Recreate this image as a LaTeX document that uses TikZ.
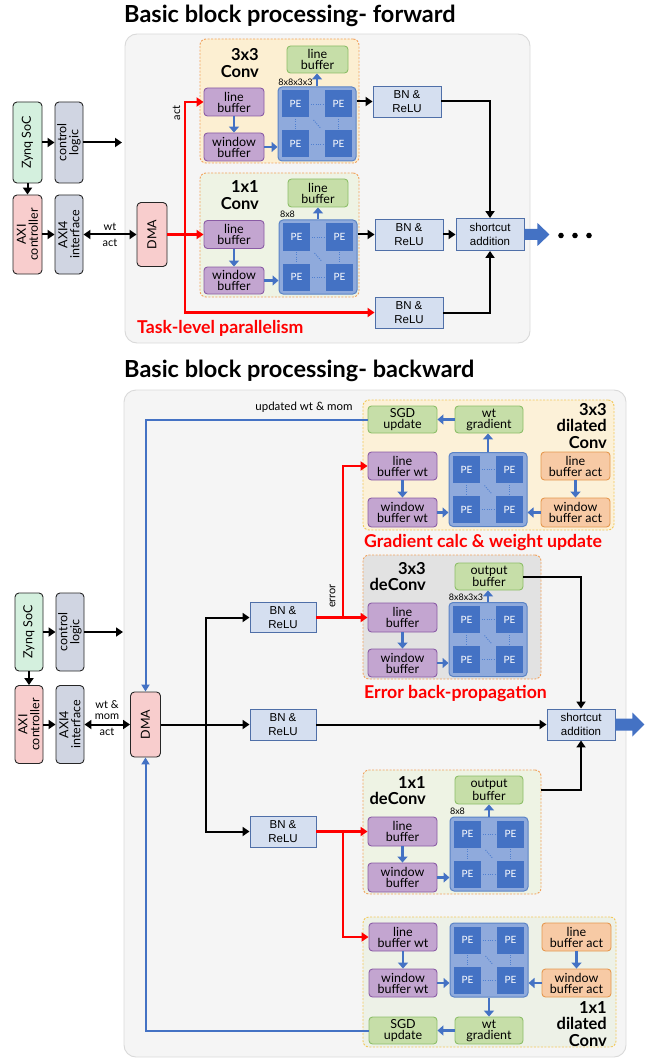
\documentclass[tikz,border=0pt]{standalone}
\usepackage{fontspec}
\setmainfont{Lato}
\newfontfamily\arialf{Liberation Sans}
\usetikzlibrary{arrows.meta,calc}
\definecolor{cpurpF}{HTML}{C3A5D0}
\definecolor{cpurpD}{HTML}{8A5BA5}
\definecolor{cgrnF}{HTML}{C6DEA8}
\definecolor{cgrnD}{HTML}{8DBE68}
\definecolor{corgF}{HTML}{F7CAA5}
\definecolor{corgD}{HTML}{E5984F}
\definecolor{cpeaF}{HTML}{8FAADC}
\definecolor{cpeaD}{HTML}{5A83C6}
\definecolor{cpeF}{HTML}{4472C4}
\definecolor{cbnF}{HTML}{D5DFF0}
\definecolor{cbnD}{HTML}{4F6FA8}
\definecolor{czynF}{HTML}{D4F0DE}
\definecolor{cctlF}{HTML}{D0D5E2}
\definecolor{caxiF}{HTML}{F8CDCD}
\definecolor{cArr}{HTML}{4472C4}
\definecolor{cbgF}{HTML}{F5F5F5}
\definecolor{cbgD}{HTML}{D9D9D9}
\definecolor{cyel}{HTML}{FCEFD2}
\definecolor{cgnl}{HTML}{EEF3E4}
\definecolor{cgry}{HTML}{E2E2E2}
\definecolor{cdil}{HTML}{FCF1D8}
\definecolor{cdilG}{HTML}{EDF1E7}
\definecolor{cdashO}{HTML}{F2A35E}
\definecolor{cdashY}{HTML}{F3C95A}
\definecolor{cred}{HTML}{FF0000}
\definecolor{cdot}{HTML}{4F7FD0}
\newcommand\fsz[2]{\fontsize{#1}{#2}\selectfont}
\tikzset{
 sz/.style 2 args={minimum width=#1, minimum height=#2},
 bx/.style={rectangle, rounded corners=3.5pt, line width=0.9pt, inner sep=0pt, align=center, font=\fsz{12.5}{11}},
 purp/.style={bx, fill=cpurpF, draw=cpurpD},
 grn/.style={bx, fill=cgrnF, draw=cgrnD},
 org/.style={bx, fill=corgF, draw=corgD},
 bn/.style={rectangle, fill=cbnF, draw=cbnD, line width=0.9pt, inner sep=0pt, align=center, font=\arialf\fsz{11.5}{14}},
 sys/.style={rectangle, rounded corners=4pt, draw=black!85, line width=0.9pt, inner sep=0pt},
 vtxt/.style={rotate=90, align=center, font=\fsz{12.5}{12}, inner sep=0pt},
 lbl/.style={align=center, font=\fsz{11}{10.5}, inner sep=0pt},
 small/.style={font=\fsz{9}{9}, inner sep=0pt},
 grp/.style={rectangle, rounded corners=6pt, dash pattern=on 2pt off 1.5pt, line width=0.9pt, inner sep=0pt},
 bgbox/.style={rectangle, rounded corners=12pt, fill=cbgF, draw=cbgD, line width=0.9pt, inner sep=0pt},
 pearray/.style={rectangle, rounded corners=4pt, fill=cpeaF, draw=cpeaD, line width=1pt, sz={78}{74}, inner sep=0pt},
 pe/.style={rectangle, fill=cpeF, sz={27}{27}, inner sep=0pt, text=white, font=\fsz{10}{10}},
 pedot/.style={draw=cdot, line width=0.9pt, dash pattern=on 1pt off 1.3pt},
 ttl/.style={font=\bfseries\fsz{16.5}{16.5}, align=right, inner sep=0pt, anchor=east},
 redttl/.style={font=\bfseries\fsz{17.7}{20}, text=cred, inner sep=0pt, anchor=west},
 blk/.style={draw=black, line width=2pt, -{Triangle[length=7pt,width=9pt]}},
 blkd/.style={draw=black, line width=2pt, {Triangle[length=7pt,width=9pt]}-{Triangle[length=7pt,width=9pt]}},
 redA/.style={draw=cred, line width=2.2pt, -{Triangle[length=7pt,width=9pt]}},
 bl/.style={draw=cArr, line width=2.6pt, -{Triangle[length=6pt,width=10pt]}},
 bfb/.style={draw=cArr, line width=2pt, -{Triangle[length=7pt,width=8pt]}},
}
\newcommand\PEarr[3]{%
  \node[pearray] (#1) at (#2,#3) {};
  \node[pe] (#1a) at ($(#1)+(-21.5,-20)$) {PE};
  \node[pe] (#1b) at ($(#1)+(21.5,-20)$) {PE};
  \node[pe] (#1c) at ($(#1)+(-21.5,20)$) {PE};
  \node[pe] (#1d) at ($(#1)+(21.5,20)$) {PE};
  \draw[pedot] ($(#1)+(-6,-20)$) -- ($(#1)+(6,-20)$);
  \draw[pedot] ($(#1)+(-6,20)$) -- ($(#1)+(6,20)$);
  \draw[pedot] ($(#1)+(-21.5,-5)$) -- ($(#1)+(-21.5,5)$);
  \draw[pedot] ($(#1)+(21.5,-5)$) -- ($(#1)+(21.5,5)$);
  \draw[pedot] ($(#1)+(-3.5,-4)$) -- ($(#1)+(3.5,4)$);
}
\begin{document}
\begin{tikzpicture}[x=1pt,y=-1pt]
\useasboundingbox (0,0) rectangle (651,1059);
% ---------------- titles and backgrounds
\node[anchor=base west, inner sep=0, font=\bfseries\fsz{23.5}{24}] (tF) at (124,23) {Basic block processing- forward};
\node[anchor=base west, inner sep=0, font=\bfseries\fsz{23.5}{24}] (tB) at (124,377) {Basic block processing- backward};
\node[bgbox, sz={405}{309}] (bgF) at (327.5,188.5) {};
\node[bgbox, sz={502}{667}] (bgB) at (375,723.5) {};

% ================= FORWARD =================
\node[sys, fill=czynF, sz={29}{81}] (zynF) at (27.5,142.5) {};
\node[vtxt] (zynFt) at (zynF) {Zynq SoC};
\node[sys, fill=cctlF, sz={28}{81}] (ctlF) at (69,142.5) {};
\node[vtxt] (ctlFt) at (ctlF) {control\\logic};
\node[sys, fill=caxiF, sz={29}{79}] (axcF) at (27.5,234.5) {};
\node[vtxt] (axcFt) at (axcF) {AXI\\controller};
\node[sys, fill=cctlF, sz={28}{79}] (ax4F) at (69,234.5) {};
\node[vtxt] (ax4Ft) at (ax4F) {AXI4\\interface};
\node[sys, fill=caxiF, sz={30}{64}] (dmaF) at (152,234.5) {};
\node[vtxt] (dmaFt) at (dmaF) {DMA};
\coordinate (cF) at (122,142.5);
\draw[blk] (zynF.east) -- (ctlF.west);
\draw[blk] (ctlF.east) -- (cF);
\draw[blk] (zynF.south) -- (axcF.north);
\draw[blk] (axcF.east) -- (ax4F.west);
\draw[blkd] (ax4F.east) -- (dmaF.west);
\node[lbl] (wtF) at (110,227) {wt};
\node[lbl] (actF) at (110,243) {act};

\node[grp, fill=cyel, draw=cdashO, sz={159}{124}] (gF3) at (279.5,101) {};
\node[grp, fill=cgnl, draw=cdashO, sz={159}{124}] (gF1) at (279.5,235) {};
\node[ttl] (gF3t) at (259,63) {3x3\\Conv};
\node[ttl] (gF1t) at (259,195) {1x1\\Conv};

% 3x3 conv
\node[grn, sz={61}{27}] (lbgF3) at (317.5,59.5) {line\\buffer};
\node[purp, sz={60}{28}] (lbF3) at (234,102) {line\\buffer};
\node[purp, sz={60}{28}] (wbF3) at (234,147) {window\\buffer};
\PEarr{peF3}{317}{124}
\node[small] (szF3) at (295.5,82) {8x8x3x3};
\draw[bl] (lbF3.south) -- (wbF3.north);
\draw[bl] (wbF3.east) -- (wbF3.east -| peF3.west);
\draw[bl] (peF3.north) -- (peF3.north |- lbgF3.south);

% 1x1 conv
\node[grn, sz={60}{28}] (lbgF1) at (318,193) {line\\buffer};
\node[purp, sz={60}{28}] (lbF1) at (234,234.5) {line\\buffer};
\node[purp, sz={60}{27}] (wbF1) at (234,280.5) {window\\buffer};
\PEarr{peF1}{318}{257}
\node[small] (szF1) at (287.5,214) {8x8};
\draw[bl] (lbF1.south) -- (wbF1.north);
\draw[bl] (wbF1.east) -- (wbF1.east -| peF1.west);
\draw[bl] (peF1.north) -- (peF1.north |- lbgF1.south);

\node[bn, sz={68}{31}] (bnF1) at (407,101.5) {BN \&\\ReLU};
\node[bn, sz={68}{31}] (bnF2) at (409,234.5) {BN \&\\ReLU};
\node[bn, sz={68}{31}] (bnF3) at (409,312.5) {BN \&\\ReLU};
\node[bn, sz={68}{32}] (scF) at (490,234.5) {shortcut\\addition};

\draw[blk] (bnF1.west -| peF3.east) -- (bnF1.west);
\draw[blk] (bnF2.west -| peF1.east) -- (bnF2.west);
\draw[blk] (bnF2.east) -- (scF.west);
\draw[blk] (bnF1.east) -| (scF.north);
\draw[blk] (bnF3.east) -| (scF.south);

\coordinate (jF) at (185,234.5);
\draw[redA] (dmaF.east) -- (lbF1.west);
\draw[redA] (jF) |- (lbF3.west);
\draw[redA] (jF) |- (bnF3.west);
\node[lbl, rotate=90] (actF2) at (176.5,113) {act};

\fill[cArr] ($(scF.east)+(0,-5.5)$) -- ++(13,0) -- ++(0,-6) -- ++(12,11.5) -- ++(-12,11.5) -- ++(0,-6) -- ++(-13,0) -- cycle;
\fill (561,235.5) circle (2.8) (575,235.5) circle (2.8) (589,235.5) circle (2.8);
\node[redttl] (tlp) at (137,328) {Task-level parallelism};

% ================= BACKWARD =================
\node[sys, fill=czynF, sz={28}{78}] (zynB) at (29,632) {};
\node[vtxt] (zynBt) at (zynB) {Zynq SoC};
\node[sys, fill=cctlF, sz={28}{78}] (ctlB) at (70,632) {};
\node[vtxt] (ctlBt) at (ctlB) {control\\logic};
\node[sys, fill=caxiF, sz={28}{78}] (axcB) at (29,724.5) {};
\node[vtxt] (axcBt) at (axcB) {AXI\\controller};
\node[sys, fill=cctlF, sz={28}{78}] (ax4B) at (70,724.5) {};
\node[vtxt] (ax4Bt) at (ax4B) {AXI4\\interface};
\node[sys, fill=caxiF, sz={30}{65}] (dmaB) at (145.5,724.5) {};
\node[vtxt] (dmaBt) at (dmaB) {DMA};
\coordinate (cB) at (123,632);
\draw[blk] (zynB.east) -- (ctlB.west);
\draw[blk] (ctlB.east) -- (cB);
\draw[blk] (zynB.south) -- (axcB.north);
\draw[blk] (axcB.east) -- (ax4B.west);
\draw[blkd] (ax4B.east) -- (dmaB.west);
\node[lbl] (wtB) at (107,710) {wt \&\\mom};
\node[lbl] (actB) at (107,732) {act};

% groups
\node[grp, fill=cdil, draw=cdashY, sz={251}{130}] (gW3) at (488.5,465) {};
\node[grp, fill=cgry, draw=cdashO, sz={178}{124}] (gD3) at (452,617) {};
\node[grp, fill=cgnl, draw=cdashO, sz={178}{124}] (gD1) at (452,832) {};
\node[grp, fill=cdilG, draw=cdashY, sz={253}{130}] (gW1) at (489.5,982) {};
\node[ttl] (gW3t) at (607,426) {3x3\\dilated\\Conv};
\node[ttl] (gD3t) at (426,576.5) {3x3\\deConv};
\node[ttl] (gD1t) at (426,790.5) {1x1\\deConv};
\node[ttl] (gW1t) at (607,1024) {1x1\\dilated\\Conv};

% 3x3 dilated
\node[grn, sz={69}{27}] (sgd3) at (402.5,419.5) {SGD\\update};
\node[grn, sz={68}{27}] (wg3) at (489,419.5) {wt\\gradient};
\node[purp, sz={69}{28}] (lbW3) at (402.5,466) {line\\buffer wt};
\node[purp, sz={69}{29}] (wbW3) at (402.5,512.5) {window\\buffer wt};
\PEarr{peW3}{488}{489.5}
\node[org, sz={69}{28}] (lbA3) at (575.5,466) {line\\buffer act};
\node[org, sz={69}{29}] (wbA3) at (575.5,512.5) {window\\buffer act};
\draw[bl] (peW3.north) -- (peW3.north |- wg3.south);
\draw[bl] (wg3.west) -- (sgd3.east);
\draw[bl] (lbW3.south) -- (wbW3.north);
\draw[bl] (wbW3.east) -- (wbW3.east -| peW3.west);
\draw[bl] (lbA3.south) -- (wbA3.north);
\draw[bl] (wbA3.west) -- (wbA3.west -| peW3.east);
\node[redttl] (tgc) at (364,543) {Gradient calc \& weight update};

% 3x3 deConv
\node[grn, sz={68}{27}] (outD3) at (489,576.5) {output\\buffer};
\node[purp, sz={69}{29}] (lbD3) at (402.5,617.5) {line\\buffer};
\node[purp, sz={69}{28}] (wbD3) at (402.5,663) {window\\buffer};
\PEarr{peD3}{488}{639.5}
\node[small] (szD3) at (466,597) {8x8x3x3};
\draw[bl] (peD3.north) -- (peD3.north |- outD3.south);
\draw[bl] (lbD3.south) -- (wbD3.north);
\draw[bl] (wbD3.east) -- (wbD3.east -| peD3.west);
\node[redttl] (teb) at (364,694) {Error back-propagation};

% 1x1 deConv
\node[grn, sz={68}{28}] (outD1) at (489,790) {output\\buffer};
\node[purp, sz={69}{29}] (lbD1) at (402.5,831.5) {line\\buffer};
\node[purp, sz={69}{29}] (wbD1) at (402.5,877.5) {window\\buffer};
\PEarr{peD1}{489}{854}
\node[small] (szD1) at (457.5,811.5) {8x8};
\draw[bl] (peD1.north) -- (peD1.north |- outD1.south);
\draw[bl] (lbD1.south) -- (wbD1.north);
\draw[bl] (wbD1.east) -- (wbD1.east -| peD1.west);

% 1x1 dilated
\node[purp, sz={68}{28}] (lbW1) at (403,937) {line\\buffer wt};
\node[purp, sz={68}{28}] (wbW1) at (403,983) {window\\buffer wt};
\PEarr{peW1}{489}{960}
\node[org, sz={69}{28}] (lbA1) at (576.5,937) {line\\buffer act};
\node[org, sz={69}{28}] (wbA1) at (576.5,983) {window\\buffer act};
\node[grn, sz={68}{27}] (wg1) at (489,1030.5) {wt\\gradient};
\node[grn, sz={68}{27}] (sgd1) at (403,1030.5) {SGD\\update};
\draw[bl] (peW1.south) -- (peW1.south |- wg1.north);
\draw[bl] (wg1.west) -- (sgd1.east);
\draw[bl] (lbW1.south) -- (wbW1.north);
\draw[bl] (wbW1.east) -- (wbW1.east -| peW1.west);
\draw[bl] (lbA1.south) -- (wbA1.north);
\draw[bl] (wbA1.west) -- (wbA1.west -| peW1.east);

% BN and shortcut
\node[bn, sz={66}{30}] (bnA) at (283,617.5) {BN \&\\ReLU};
\node[bn, sz={66}{31}] (bnB) at (283,724.5) {BN \&\\ReLU};
\node[bn, sz={66}{31}] (bnC) at (283,831.5) {BN \&\\ReLU};
\node[bn, sz={68}{31}] (scB) at (581,724.5) {shortcut\\addition};

\coordinate (jB) at (206,724.5);
\draw[blk] (dmaB.east) -- (bnB.west);
\draw[blk] (jB) |- (bnA.west);
\draw[blk] (jB) |- (bnC.west);
\draw[blk] (bnB.east) -- (scB.west);
\draw[blk] (outD3.east) -| (scB.north);
\draw[blk] (gD1.east |- outD1.east) -| (scB.south);

\coordinate (jR1) at (343,617.5);
\coordinate (jR2) at (343,831.5);
\draw[redA] (bnA.east) -- (lbD3.west);
\draw[redA] (jR1) |- (lbW3.west);
\draw[redA] (bnC.east) -- (lbD1.west);
\draw[redA] (jR2) |- (lbW1.west);
\node[lbl, rotate=90] (errl) at (332.5,596) {error};

\draw[bfb] (sgd3.west) -| (dmaB.north);
\draw[bfb] (sgd1.west) -| (dmaB.south);
\node[lbl, font=\fsz{11.5}{12}] (updl) at (304,407) {updated wt \& mom};

\fill[cArr] ($(scB.east)+(0,-6)$) -- ++(17,0) -- ++(0,-6) -- ++(12,12) -- ++(-12,12) -- ++(0,-6) -- ++(-17,0) -- cycle;
\end{tikzpicture}
\end{document}
